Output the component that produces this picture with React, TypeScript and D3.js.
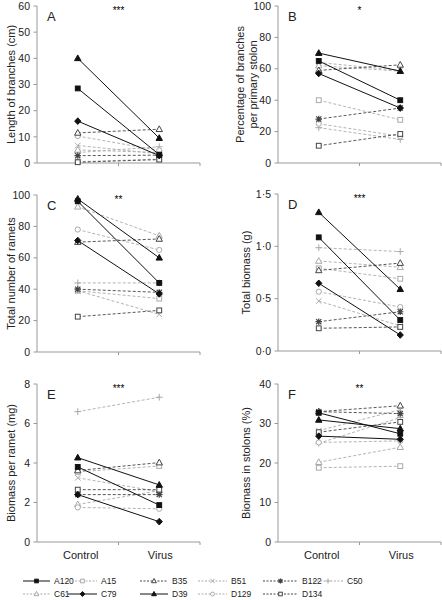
import React from "react";
import * as d3 from "d3";

const seriesNames = ["A120", "A15", "B35", "B51", "B122", "C50", "C61", "C79", "D39", "D129", "D134"];
const treatments = ["Control", "Virus"];

const lengthControl = [28.5, 0.5, 11.5, 6.7, 2.8, 4.0, 5.0, 16.0, 40.0, 10.3, 0.3];
const lengthVirus = [3.2, 1.5, 12.9, 3.5, 3.0, 6.2, 4.0, 2.8, 9.5, 4.8, 1.3];

const pctControl = [65, 40, 59, 64, 28, 22.5, 62, 57, 70, 25, 11];
const pctVirus = [40, 27.5, 62.5, 59, 35, 15, 58.5, 35, 58.5, 17, 18.5];

const rametsControl = [96, 39, 70, 39, 40, 44, 92.5, 71, 97.5, 78, 22.5];
const rametsVirus = [44, 34, 72, 24, 38, 44, 74, 37, 60, 65, 26.5];

const biomassControl = [1.086, 0.79, 0.77, 0.477, 0.28, 0.987, 0.86, 0.647, 1.325, 0.566, 0.217];
const biomassVirus = [0.296, 0.69, 0.84, 0.24, 0.375, 0.95, 0.8, 0.153, 0.59, 0.42, 0.23];

const perRametControl = [3.8, 3.55, 3.62, 3.25, 2.4, 6.6, 1.9, 2.4, 4.27, 1.75, 2.65];
const perRametVirus = [1.87, 3.85, 4.02, 2.55, 2.4, 7.33, 2.6, 1.03, 2.89, 1.68, 2.65];

const stolonControl = [32.7, 18.8, 33, 28.2, 33, 25, 20.2, 26.8, 30.9, 25.2, 27.8];
const stolonVirus = [27.4, 19.2, 34.5, 33.5, 32.5, 31.5, 24, 26, 28.7, 25.6, 30.4];

const ticksA = [0, 10, 20, 30, 40, 50, 60];
const ticksB = [0, 20, 40, 60, 80, 100];
const ticksC = [0, 20, 40, 60, 80, 100];
const ticksD = [0, 0.5, 1.0, 1.5];
const ticksE = [0, 2, 4, 6, 8];
const ticksF = [0, 10, 20, 30, 40];

const BLACK = "#111";
const DARK = "#444";
const LIGHT = "#aaa";
const AXIS = "#999";
const TEXT = "#222";
const FONT = "Liberation Sans, Arial, sans-serif";

type Style = { marker: string; color: string; filled: boolean; dash: string | null };
const styles: Record<string, Style> = {
  A120: { marker: "square", color: BLACK, filled: true, dash: null },
  A15: { marker: "square", color: LIGHT, filled: false, dash: "3,2" },
  B35: { marker: "triangle", color: DARK, filled: false, dash: "3,2" },
  B51: { marker: "x", color: LIGHT, filled: false, dash: "3,2" },
  B122: { marker: "star", color: DARK, filled: false, dash: "3,2" },
  C50: { marker: "plus", color: LIGHT, filled: false, dash: "3,2" },
  C61: { marker: "triangle", color: LIGHT, filled: false, dash: "3,2" },
  C79: { marker: "diamond", color: BLACK, filled: true, dash: null },
  D39: { marker: "triangle", color: BLACK, filled: true, dash: null },
  D129: { marker: "circle", color: LIGHT, filled: false, dash: "3,2" },
  D134: { marker: "square", color: DARK, filled: false, dash: "3,2" },
};

function Marker({ x, y, s, k = 1 }: { x: number; y: number; s: Style; k?: number }) {
  const fill = s.filled ? s.color : "white";
  const sw = 1;
  switch (s.marker) {
    case "square":
      return <rect x={x - 2.4 * k} y={y - 2.4 * k} width={4.8 * k} height={4.8 * k} fill={fill} stroke={s.color} strokeWidth={sw} />;
    case "triangle":
      return <path d={`M${x},${y - 3.4 * k}L${x + 3.2 * k},${y + 2.3 * k}L${x - 3.2 * k},${y + 2.3 * k}Z`} fill={fill} stroke={s.color} strokeWidth={sw} />;
    case "diamond":
      return <path d={`M${x},${y - 3.3 * k}L${x + 3.1 * k},${y}L${x},${y + 3.3 * k}L${x - 3.1 * k},${y}Z`} fill={fill} stroke={s.color} strokeWidth={sw} />;
    case "circle":
      return <circle cx={x} cy={y} r={2.6 * k} fill={fill} stroke={s.color} strokeWidth={sw} />;
    case "plus":
      return <path d={`M${x - 3.4 * k},${y}H${x + 3.4 * k}M${x},${y - 3.4 * k}V${y + 3.4 * k}`} stroke={s.color} strokeWidth={sw} fill="none" />;
    case "x":
      return <path d={`M${x - 2.8 * k},${y - 2.8 * k}L${x + 2.8 * k},${y + 2.8 * k}M${x - 2.8 * k},${y + 2.8 * k}L${x + 2.8 * k},${y - 2.8 * k}`} stroke={s.color} strokeWidth={sw} fill="none" />;
    case "star":
      return (
        <path
          d={`M${x - 2.6 * k},${y - 2.6 * k}L${x + 2.6 * k},${y + 2.6 * k}M${x - 2.6 * k},${y + 2.6 * k}L${x + 2.6 * k},${y - 2.6 * k}M${x - 3.2 * k},${y}H${x + 3.2 * k}M${x},${y - 3.2 * k}V${y + 3.2 * k}`}
          stroke={s.color}
          strokeWidth={1.2}
          fill="none"
        />
      );
    default:
      return null;
  }
}

type PanelProps = {
  x0: number;
  x1: number;
  yTop: number;
  yBottom: number;
  ticks: number[];
  fmt: (v: number) => string;
  control: number[];
  virus: number[];
  letter: string;
  stars: string;
  ylabel: string[];
  labelX: number;
  showX: boolean;
};

function Panel(p: PanelProps) {
  const yMax = p.ticks[p.ticks.length - 1];
  const y = d3.scaleLinear().domain([0, yMax]).range([p.yBottom, p.yTop]);
  const xb = d3.scalePoint().domain(treatments).range([p.x0, p.x1]).padding(0.5);
  const midX = (p.x0 + p.x1) / 2;
  const cy = (p.yTop + p.yBottom) / 2;
  const order = seriesNames
    .map((n, i) => ({ n, i }))
    .sort((a, b) => {
      const r = (s: Style) => (s.dash === null ? 2 : s.color === DARK ? 1 : 0);
      return r(styles[a.n]) - r(styles[b.n]);
    });
  return (
    <g fontFamily={FONT}>
      <line x1={p.x0} x2={p.x0} y1={p.yTop} y2={p.yBottom} stroke={AXIS} strokeWidth={1} />
      <line x1={p.x0} x2={p.x1} y1={p.yBottom} y2={p.yBottom} stroke={AXIS} strokeWidth={1} />
      <line x1={midX} x2={midX} y1={p.yBottom} y2={p.yBottom + 3} stroke={AXIS} />
      <line x1={p.x1} x2={p.x1} y1={p.yBottom} y2={p.yBottom + 3} stroke={AXIS} />
      {p.ticks.map((t) => (
        <g key={t}>
          <line x1={p.x0 - 3.5} x2={p.x0} y1={y(t)} y2={y(t)} stroke={AXIS} />
          <text x={p.x0 - 7} y={y(t)} dy="0.35em" textAnchor="end" fontSize={10.5} fill={TEXT}>
            {p.fmt(t)}
          </text>
        </g>
      ))}
      <text transform={`translate(${p.labelX},${cy}) rotate(-90)`} textAnchor="middle" fontSize={11} fill={TEXT}>
        {p.ylabel.map((l, i) => (
          <tspan key={i} x={0} dy={i === 0 ? 0 : "1.2em"}>
            {l}
          </tspan>
        ))}
      </text>
      <text x={p.x0 + 10} y={p.yTop + 15} fontSize={13} fill={TEXT}>
        {p.letter}
      </text>
      <text x={midX} y={p.yTop + 8} textAnchor="middle" fontSize={10} fill="#000">
        {p.stars}
      </text>
      {order.map(({ n, i }) => {
        const s = styles[n];
        return (
          <line
            key={"l" + n}
            x1={xb("Control")!}
            x2={xb("Virus")!}
            y1={y(p.control[i])}
            y2={y(p.virus[i])}
            stroke={s.color}
            strokeWidth={s.dash ? 0.9 : 1}
            strokeDasharray={s.dash ?? undefined}
          />
        );
      })}
      {order.map(({ n, i }) => (
        <g key={"m" + n}>
          <Marker x={xb("Control")!} y={y(p.control[i])} s={styles[n]} />
          <Marker x={xb("Virus")!} y={y(p.virus[i])} s={styles[n]} />
        </g>
      ))}
      {p.showX &&
        treatments.map((t) => (
          <text key={t} x={xb(t)! + (t === "Control" ? 3 : 1)} y={p.yBottom + 17} textAnchor="middle" fontSize={11} fill={TEXT}>
            {t}
          </text>
        ))}
    </g>
  );
}

const legendCols = [
  [23, 50],
  [68, 97],
  [140, 168],
  [198, 227],
  [263, 298],
  [313, 343],
];

export default function App() {
  const fmtInt = (v: number) => String(v);
  const fmtDot = (v: number) => v.toFixed(1).replace(".", "·");
  const L = { x0: 37, x1: 200 };
  const R = { x0: 278, x1: 441 };
  return (
    <svg width={442} height={600} style={{ position: "absolute", left: 0, top: 0, background: "white" }}>
      <rect width={442} height={600} fill="white" />
      <Panel {...L} yTop={6} yBottom={163} ticks={ticksA} fmt={fmtInt} control={lengthControl} virus={lengthVirus}
        letter="A" stars="***" ylabel={["Length of branches (cm)"]} labelX={15} showX={false} />
      <Panel {...R} yTop={6} yBottom={163} ticks={ticksB} fmt={fmtInt} control={pctControl} virus={pctVirus}
        letter="B" stars="*" ylabel={["Percentage of branches", "per primary stolon"]} labelX={244} showX={false} />
      <Panel {...L} yTop={195} yBottom={352} ticks={ticksC} fmt={fmtInt} control={rametsControl} virus={rametsVirus}
        letter="C" stars="**" ylabel={["Total number of ramets"]} labelX={15} showX={false} />
      <Panel {...R} yTop={194} yBottom={351} ticks={ticksD} fmt={fmtDot} control={biomassControl} virus={biomassVirus}
        letter="D" stars="***" ylabel={["Total biomass (g)"]} labelX={250} showX={false} />
      <Panel {...L} yTop={384} yBottom={542} ticks={ticksE} fmt={fmtInt} control={perRametControl} virus={perRametVirus}
        letter="E" stars="***" ylabel={["Biomass per ramet (mg)"]} labelX={15} showX={true} />
      <Panel {...R} yTop={384} yBottom={542} ticks={ticksF} fmt={fmtInt} control={stolonControl} virus={stolonVirus}
        letter="F" stars="**" ylabel={["Biomass in stolons (%)"]} labelX={250} showX={true} />
      <g fontFamily={FONT}>
        {seriesNames.map((n, k) => {
          const row = k < 6 ? 0 : 1;
          const col = k < 6 ? k : k - 6;
          const [a, b] = legendCols[col];
          const yy = row === 0 ? 581 : 594;
          const s = styles[n];
          return (
            <g key={n}>
              <line x1={a} x2={b} y1={yy} y2={yy} stroke={s.color} strokeDasharray={s.dash ? "2,1.5" : undefined} />
              <Marker x={(a + b) / 2} y={yy} s={s} k={0.75} />
              <text x={b + 4} y={yy} dy="0.35em" fontSize={8.5} fill={TEXT}>
                {n}
              </text>
            </g>
          );
        })}
      </g>
    </svg>
  );
}
